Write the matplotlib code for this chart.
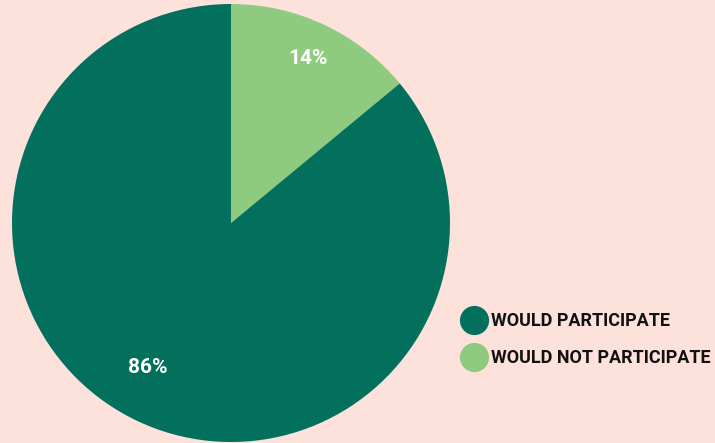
import numpy as np
import matplotlib.pyplot as plt
from matplotlib.lines import Line2D

labels = ['WOULD PARTICIPATE', 'WOULD NOT PARTICIPATE']
values = [86, 14]
colors = ['#02705d', '#8ecb7e']
bg = '#fde1db'

plt.rcParams['font.family'] = ['Roboto', 'DejaVu Sans']

fig = plt.figure(figsize=(7.15, 4.43), dpi=100, facecolor=bg)
ax = fig.add_axes([12 / 715, 1 / 443, 438 / 715, 438 / 443])
ax.set_facecolor(bg)

# small slice starts at 12 o'clock and runs clockwise
wedges, texts, autotexts = ax.pie(
    values[::-1], colors=colors[::-1], startangle=90, counterclock=False,
    autopct='%d%%', pctdistance=0.83, radius=1,
    textprops=dict(color='white', fontsize=15, fontweight='bold'))
# the big slice's label sits a bit off its centre line
ang = np.deg2rad(-120)
autotexts[1].set_position((0.76 * np.cos(ang), 0.76 * np.sin(ang)))
ax.set_xlim(-1, 1)
ax.set_ylim(-1, 1)
ax.set_aspect('equal')

handles = [Line2D([], [], marker='o', linestyle='none', markersize=20,
                  markerfacecolor=c, markeredgecolor=c) for c in colors]
leg = fig.legend(handles, labels, loc='center left', bbox_to_anchor=(0.62, 0.233),
                 frameon=False, handletextpad=0.15, labelspacing=1.05,
                 handlelength=1.6, prop=dict(size=13, weight='bold'))
for t in leg.get_texts():
    t.set_color('#111111')

fig.savefig('out.png', dpi=100, facecolor=bg)
